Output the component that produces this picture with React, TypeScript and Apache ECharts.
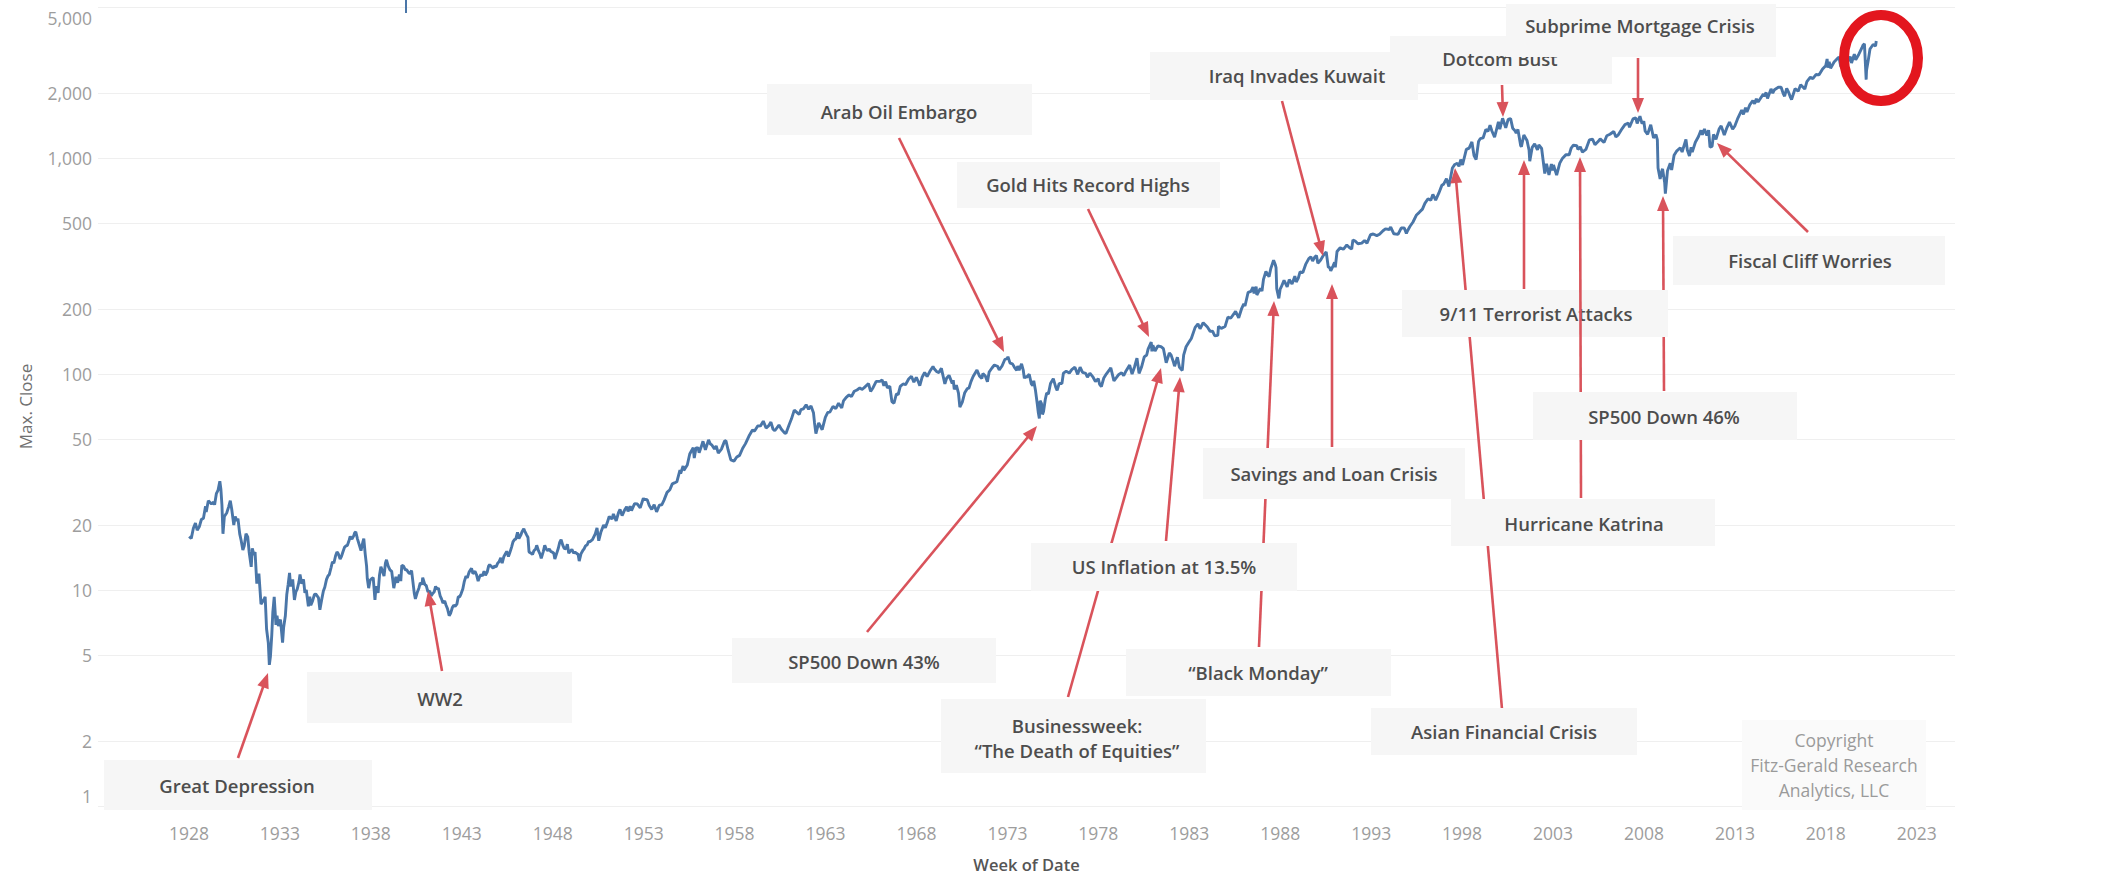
import React, { useEffect, useRef } from "react";
import * as echarts from "echarts";

// ---------- DATA (weekly max close) ----------
const closes1928to1949: [string, number][] = [
  ["1928-01-06",17.7],["1928-02-17",17.3],["1928-03-30",19.3],["1928-05-11",20.4],["1928-06-15",18.9],["1928-07-27",19.6],["1928-09-07",21.2],["1928-10-19",21.5],["1928-11-30",24.4],["1928-12-14",23.0],
  ["1929-01-25",25.9],["1929-03-01",25.4],["1929-03-29",25.0],["1929-05-10",25.5],["1929-05-31",24.8],["1929-07-05",27.9],["1929-08-09",29.0],["1929-09-13",31.9],["1929-10-04",29.3],["1929-10-25",24.8],["1929-11-15",18.2],["1929-12-13",21.9],
  ["1930-01-31",22.8],["1930-03-07",24.2],["1930-04-11",25.9],["1930-05-09",23.7],["1930-06-20",20.0],["1930-07-18",21.9],["1930-08-22",20.9],["1930-09-12",21.4],["1930-10-17",18.2],["1930-11-14",17.0],["1930-12-19",15.3],
  ["1931-01-16",16.0],["1931-02-20",18.2],["1931-03-27",17.6],["1931-04-24",15.0],["1931-06-05",12.8],["1931-06-26",15.6],["1931-07-31",14.5],["1931-08-21",15.0],["1931-09-25",10.7],["1931-10-16",11.5],["1931-11-06",11.9],["1931-12-18",8.6],
  ["1932-01-15",8.8],["1932-02-19",9.1],["1932-03-11",9.3],["1932-04-08",6.6],["1932-05-13",5.7],["1932-06-03",4.5],["1932-06-24",4.9],["1932-07-22",6.2],["1932-08-12",7.9],["1932-09-09",9.3],["1932-10-14",6.9],["1932-11-04",7.6],["1932-12-02",6.8],
  ["1933-01-13",7.3],["1933-02-24",5.7],["1933-03-17",6.7],["1933-04-21",7.6],["1933-05-19",9.5],["1933-06-16",10.6],["1933-07-14",12.0],["1933-08-04",10.4],["1933-09-15",11.2],["1933-10-20",9.0],["1933-11-17",9.8],["1933-12-15",10.1],
  ["1934-01-19",10.9],["1934-02-09",11.8],["1934-03-16",10.7],["1934-04-20",11.2],["1934-05-18",9.7],["1934-06-15",10.0],["1934-07-27",8.4],["1934-08-24",9.3],["1934-09-14",8.5],["1934-10-19",8.9],["1934-11-23",9.5],["1934-12-21",9.6],
  ["1935-01-18",9.4],["1935-02-15",9.2],["1935-03-15",8.1],["1935-04-19",9.0],["1935-05-24",9.9],["1935-06-21",10.3],["1935-07-26",11.2],["1935-08-23",11.6],["1935-09-20",11.8],["1935-10-25",12.7],["1935-11-22",13.5],["1935-12-20",13.3],
  ["1936-01-24",14.4],["1936-02-21",15.0],["1936-03-20",14.7],["1936-04-24",13.9],["1936-05-22",14.3],["1936-06-19",15.0],["1936-07-24",15.8],["1936-08-21",16.0],["1936-09-18",16.1],["1936-10-23",17.0],["1936-11-13",17.7],["1936-12-18",17.2],
  ["1937-01-22",17.8],["1937-02-12",18.4],["1937-03-05",18.6],["1937-04-09",17.2],["1937-05-14",16.2],["1937-06-18",15.2],["1937-07-23",16.6],["1937-08-13",17.3],["1937-09-10",14.7],["1937-10-08",12.9],["1937-10-22",11.3],["1937-11-19",10.2],["1937-12-17",11.1],
  ["1938-01-21",11.3],["1938-02-18",11.4],["1938-03-25",9.0],["1938-04-15",10.4],["1938-05-27",9.7],["1938-06-24",11.7],["1938-07-22",12.8],["1938-08-19",12.3],["1938-09-23",11.6],["1938-10-21",13.3],["1938-11-11",13.8],["1938-12-16",12.9],
  ["1939-01-20",12.4],["1939-02-24",12.2],["1939-04-07",10.2],["1939-05-19",11.5],["1939-06-23",10.8],["1939-07-28",11.8],["1939-08-25",11.0],["1939-09-15",13.0],["1939-10-20",12.9],["1939-11-24",12.4],["1939-12-22",12.4],
  ["1940-01-19",12.1],["1940-02-23",11.9],["1940-03-29",12.3],["1940-04-12",12.3],["1940-05-24",9.6],["1940-06-14",9.1],["1940-07-19",9.7],["1940-08-23",10.2],["1940-09-20",10.8],["1940-10-25",10.6],["1940-11-08",11.4],["1940-12-20",10.6],
  ["1941-01-17",10.5],["1941-02-21",9.8],["1941-03-28",9.9],["1941-04-25",9.4],["1941-05-23",9.6],["1941-06-27",9.8],["1941-07-25",10.4],["1941-08-22",10.1],["1941-09-19",10.2],["1941-10-24",9.4],["1941-11-21",9.1],["1941-12-19",8.7],
  ["1942-01-23",8.9],["1942-02-20",8.5],["1942-03-20",8.2],["1942-04-24",7.6],["1942-05-22",7.8],["1942-06-26",8.3],["1942-07-24",8.5],["1942-08-21",8.4],["1942-09-25",8.6],["1942-10-23",9.3],["1942-11-20",9.3],["1942-12-18",9.6],
  ["1943-01-22",10.1],["1943-02-19",10.9],["1943-03-26",11.6],["1943-04-23",11.4],["1943-05-28",12.1],["1943-07-16",12.6],["1943-08-13",11.9],["1943-09-24",12.2],["1943-10-22",11.8],["1943-11-26",11.0],["1943-12-24",11.5],
  ["1944-01-21",11.8],["1944-02-18",11.6],["1944-03-24",12.2],["1944-04-21",11.7],["1944-05-26",12.1],["1944-06-23",12.9],["1944-07-14",13.1],["1944-08-25",12.8],["1944-09-22",12.6],["1944-10-20",12.9],["1944-11-24",12.8],["1944-12-22",13.3],
  ["1945-01-19",13.5],["1945-02-23",14.1],["1945-03-23",13.3],["1945-04-27",14.3],["1945-05-25",14.7],["1945-06-22",15.1],["1945-07-27",14.3],["1945-08-24",14.9],["1945-09-28",15.8],["1945-10-26",16.7],["1945-11-23",17.1],["1945-12-21",17.2],
  ["1946-01-25",18.5],["1946-02-22",17.3],["1946-03-29",17.9],["1946-04-26",18.6],["1946-05-31",19.2],["1946-06-21",18.7],["1946-07-26",18.0],["1946-08-23",17.5],["1946-09-13",15.0],["1946-10-25",14.8],["1946-11-22",14.6],["1946-12-20",15.2],
  ["1947-01-24",15.5],["1947-02-14",16.1],["1947-03-21",15.2],["1947-04-25",14.6],["1947-05-16",14.0],["1947-06-27",15.1],["1947-07-25",16.1],["1947-08-22",15.5],["1947-09-26",15.2],["1947-10-24",15.5],["1947-11-21",15.1],["1947-12-19",15.0],
  ["1948-01-23",14.8],["1948-02-13",13.9],["1948-03-26",14.9],["1948-04-23",15.6],["1948-05-21",16.6],["1948-06-18",17.1],["1948-07-23",16.1],["1948-08-20",15.6],["1948-09-24",15.5],["1948-10-22",16.3],["1948-11-19",14.8],["1948-12-17",15.1],
  ["1949-01-21",15.4],["1949-02-25",14.8],["1949-03-25",15.0],["1949-04-22",14.8],["1949-05-27",14.6],["1949-06-17",13.6],["1949-07-22",14.7],["1949-08-26",15.2],["1949-09-23",15.5],["1949-10-21",16.0],["1949-11-25",16.2],["1949-12-23",16.8]
];

const closes1950to1979: [string, number][] = [
  ["1950-01-13",16.7],["1950-03-10",17.1],["1950-05-05",18.2],["1950-06-09",19.4],["1950-07-14",16.9],["1950-08-25",18.5],["1950-10-20",20.0],["1950-11-24",19.4],["1950-12-29",20.4],
  ["1951-02-09",21.9],["1951-04-06",21.3],["1951-05-04",22.5],["1951-06-29",20.9],["1951-08-17",22.9],["1951-09-14",23.6],["1951-10-26",22.1],["1951-12-21",23.6],
  ["1952-01-25",24.3],["1952-02-22",23.1],["1952-04-04",24.4],["1952-05-02",23.3],["1952-07-03",25.1],["1952-08-29",25.0],["1952-10-24",24.0],["1952-12-26",26.6],
  ["1953-01-09",26.3],["1953-03-13",26.2],["1953-04-24",24.6],["1953-06-12",23.6],["1953-07-31",24.8],["1953-09-18",23.0],["1953-11-13",24.7],["1953-12-31",24.8],
  ["1954-02-12",26.0],["1954-04-16",28.3],["1954-06-11",29.1],["1954-07-30",31.0],["1954-09-10",31.3],["1954-10-29",31.7],["1954-12-31",35.9],
  ["1955-01-14",34.6],["1955-03-04",37.5],["1955-03-18",35.8],["1955-05-27",37.9],["1955-07-15",42.6],["1955-09-23",45.6],["1955-10-14",40.8],["1955-11-18",45.5],["1955-12-30",45.5],
  ["1956-01-20",43.2],["1956-03-02",46.0],["1956-04-06",48.8],["1956-05-25",44.6],["1956-07-27",49.5],["1956-08-31",47.5],["1956-10-05",46.8],["1956-11-23",44.9],["1956-12-28",46.5],
  ["1957-02-08",43.0],["1957-04-12",44.9],["1957-06-14",48.9],["1957-07-12",49.1],["1957-08-23",44.6],["1957-10-18",40.0],["1957-12-20",39.5],
  ["1958-02-14",41.3],["1958-04-11",42.0],["1958-06-13",45.3],["1958-08-08",47.6],["1958-10-17",51.6],["1958-12-26",55.0],
  ["1959-02-06",54.4],["1959-04-10",57.4],["1959-06-05",57.5],["1959-07-31",60.5],["1959-09-25",56.2],["1959-11-13",57.5],["1959-12-31",59.9],
  ["1960-02-12",55.5],["1960-03-18",54.6],["1960-06-10",58.0],["1960-07-29",55.5],["1960-09-30",53.4],["1960-10-28",53.0],["1960-12-30",58.1],
  ["1961-02-17",62.0],["1961-04-14",68.0],["1961-05-19",66.9],["1961-07-21",64.9],["1961-08-25",68.4],["1961-10-13",69.0],["1961-12-08",72.0],
  ["1962-01-26",68.7],["1962-03-16",71.1],["1962-05-04",66.2],["1962-05-25",59.5],["1962-06-22",53.0],["1962-08-17",59.4],["1962-10-26",55.2],["1962-12-28",63.0],
  ["1963-02-15",66.4],["1963-03-29",66.6],["1963-05-31",70.8],["1963-07-26",69.1],["1963-09-20",73.2],["1963-11-22",69.6],["1963-12-27",75.0],
  ["1964-02-21",78.0],["1964-04-17",80.1],["1964-06-05",78.6],["1964-07-31",83.2],["1964-09-25",84.3],["1964-11-20",86.2],["1964-12-31",84.8],
  ["1965-02-12",86.2],["1965-05-14",90.3],["1965-06-25",83.1],["1965-08-13",86.4],["1965-10-15",92.4],["1965-12-31",92.4],
  ["1966-02-11",94.0],["1966-03-18",88.2],["1966-04-22",92.2],["1966-05-27",86.3],["1966-07-15",87.7],["1966-08-26",74.5],["1966-10-07",73.2],["1966-11-25",81.0],["1966-12-30",80.3],
  ["1967-02-10",87.6],["1967-04-07",89.9],["1967-05-26",89.2],["1967-07-28",94.8],["1967-09-22",97.6],["1967-11-10",91.6],["1967-12-29",96.5],
  ["1968-02-09",91.8],["1968-03-08",88.3],["1968-04-26",96.9],["1968-06-14",101.6],["1968-08-02",97.3],["1968-09-27",102.9],["1968-11-29",108.4],["1968-12-27",105.4],
  ["1969-02-14",102.4],["1969-03-28",101.5],["1969-05-16",106.2],["1969-07-25",90.0],["1969-08-29",95.5],["1969-10-17",98.5],["1969-12-19",90.5],
  ["1970-01-09",93.5],["1970-01-30",85.0],["1970-03-13",88.7],["1970-04-24",81.5],["1970-05-22",70.2],["1970-07-10",74.1],["1970-08-28",81.9],["1970-10-16",85.5],["1970-11-20",86.0],["1970-12-31",92.2],
  ["1971-02-12",97.4],["1971-04-30",104.3],["1971-06-18",98.0],["1971-08-06",95.4],["1971-08-27",100.5],["1971-10-15",97.8],["1971-11-26",92.0],["1971-12-31",102.1],
  ["1972-02-25",106.6],["1972-04-14",110.0],["1972-06-16",108.6],["1972-07-21",104.6],["1972-09-15",108.9],["1972-11-10",116.7],["1972-12-29",118.1],
  ["1973-01-12",120.2],["1973-02-23",112.3],["1973-04-13",111.4],["1973-05-25",107.1],["1973-07-06",104.0],["1973-07-27",108.8],["1973-08-24",104.0],["1973-10-12",111.4],["1973-11-16",103.8],["1973-12-07",95.4],["1973-12-28",97.5],
  ["1974-01-25",96.6],["1974-03-15",99.7],["1974-04-26",90.0],["1974-05-24",88.3],["1974-06-14",93.0],["1974-07-19",83.8],["1974-08-23",72.8],["1974-09-13",66.3],["1974-10-04",62.3],["1974-10-18",75.2],["1974-11-15",73.1],["1974-12-06",65.0],["1974-12-27",67.1],
  ["1975-01-31",76.2],["1975-02-28",81.6],["1975-04-04",80.9],["1975-05-16",90.4],["1975-07-11",95.2],["1975-08-29",86.9],["1975-09-26",84.0],["1975-11-07",90.5],["1975-12-31",90.2],
  ["1976-01-30",100.9],["1976-03-26",102.9],["1976-05-28",101.0],["1976-07-16",104.7],["1976-09-17",107.5],["1976-11-12",99.6],["1976-12-31",107.5],
  ["1977-02-18",101.8],["1977-04-22",100.7],["1977-05-27",96.7],["1977-07-15",100.9],["1977-09-09",97.3],["1977-11-04",92.3],["1977-12-30",95.1],
  ["1978-01-27",89.6],["1978-03-03",87.5],["1978-04-21",95.9],["1978-06-09",99.9],["1978-08-18",105.0],["1978-09-08",106.8],["1978-11-10",93.0],["1978-12-29",96.1],
  ["1979-02-16",99.5],["1979-04-13",101.3],["1979-05-25",98.2],["1979-07-13",103.6],["1979-09-21",109.9],["1979-11-09",99.9],["1979-12-28",107.8]
];

const closes1980to2020: [string, number][] = [
  ["1980-02-15",118.4],["1980-03-28",100.7],["1980-05-16",107.4],["1980-07-11",120.0],["1980-08-29",122.4],["1980-09-26",130.4],["1980-11-28",140.5],["1980-12-12",127.4],["1980-12-31",135.8],
  ["1981-02-13",127.8],["1981-04-10",134.7],["1981-06-12",133.8],["1981-07-31",130.9],["1981-09-25",112.8],["1981-11-27",125.1],["1981-12-31",122.6],
  ["1982-02-19",113.2],["1982-03-12",108.6],["1982-05-07",119.5],["1982-06-18",107.3],["1982-08-13",103.9],["1982-09-10",122.3],["1982-10-29",133.7],["1982-12-17",139.5],
  ["1983-02-11",146.1],["1983-04-29",164.4],["1983-06-24",170.5],["1983-08-05",162.0],["1983-10-07",172.6],["1983-12-30",164.9],
  ["1984-02-24",157.5],["1984-04-13",158.0],["1984-05-25",150.3],["1984-07-27",151.0],["1984-08-10",166.0],["1984-10-05",162.7],["1984-12-21",166.0],
  ["1985-02-15",183.4],["1985-04-12",181.1],["1985-06-28",191.9],["1985-07-19",195.1],["1985-09-20",182.1],["1985-11-15",200.0],["1985-12-31",211.3],
  ["1986-01-24",206.4],["1986-03-28",238.9],["1986-05-23",241.4],["1986-07-03",252.7],["1986-07-25",236.0],["1986-09-05",253.8],["1986-09-19",232.2],["1986-11-28",249.2],["1986-12-31",242.2],
  ["1987-01-30",274.1],["1987-03-20",298.2],["1987-05-22",282.2],["1987-06-26",308.0],["1987-08-21",335.9],["1987-09-25",320.2],["1987-10-09",311.1],["1987-10-23",248.2],["1987-12-04",223.9],["1987-12-31",247.1],
  ["1988-01-22",252.9],["1988-03-18",271.1],["1988-05-20",253.0],["1988-07-01",273.5],["1988-08-26",261.0],["1988-10-21",283.7],["1988-11-18",266.5],["1988-12-30",277.7],
  ["1989-02-03",297.1],["1989-03-31",294.9],["1989-05-26",321.6],["1989-07-28",342.2],["1989-09-08",348.8],["1989-10-13",333.6],["1989-11-24",347.4],["1989-12-29",353.4],
  ["1990-01-26",325.8],["1990-03-23",337.2],["1990-05-18",354.6],["1990-07-13",367.3],["1990-08-24",311.5],["1990-09-21",311.3],["1990-10-12",300.0],["1990-11-23",315.1],["1990-12-28",328.3],
  ["1991-01-11",311.5],["1991-02-15",369.1],["1991-04-19",384.2],["1991-06-21",377.8],["1991-08-30",395.4],["1991-10-25",384.2],["1991-12-06",379.1],["1991-12-31",417.1],
  ["1992-02-14",412.5],["1992-04-10",400.6],["1992-06-26",403.5],["1992-08-21",414.9],["1992-10-09",402.7],["1992-12-18",441.3],
  ["1993-02-12",444.6],["1993-04-23",437.0],["1993-06-18",443.7],["1993-08-27",460.5],["1993-10-15",469.5],["1993-12-31",466.5],
  ["1994-01-28",478.7],["1994-04-01",445.8],["1994-06-24",442.8],["1994-08-26",473.8],["1994-10-28",473.8],["1994-12-09",446.9],["1994-12-30",459.3],
  ["1995-02-17",481.9],["1995-04-21",505.3],["1995-06-30",544.8],["1995-08-25",560.1],["1995-10-27",579.7],["1995-12-15",616.3],
  ["1996-02-16",647.9],["1996-04-12",636.7],["1996-05-24",678.5],["1996-07-19",638.7],["1996-09-20",687.0],["1996-11-22",748.7],["1996-12-27",756.8],
  ["1997-02-21",801.8],["1997-04-11",737.7],["1997-06-20",898.7],["1997-08-08",933.5],["1997-09-26",945.2],["1997-10-31",914.6],["1997-12-05",983.8],
  ["1998-01-09",927.7],["1998-03-27",1095.4],["1998-05-22",1110.5],["1998-07-17",1186.8],["1998-08-28",1027.1],["1998-10-09",984.4],["1998-11-27",1192.3],["1998-12-31",1229.2],
  ["1999-02-26",1238.3],["1999-04-23",1356.9],["1999-06-04",1327.8],["1999-07-16",1418.8],["1999-08-20",1336.6],["1999-10-15",1247.4],["1999-12-31",1469.3],
  ["2000-01-28",1360.2],["2000-03-24",1527.5],["2000-05-26",1378.0],["2000-07-14",1509.0],["2000-09-01",1520.8],["2000-10-13",1374.2],["2000-11-24",1341.8],["2000-12-22",1305.9],
  ["2001-01-26",1354.9],["2001-03-23",1139.8],["2001-04-06",1128.4],["2001-05-25",1277.9],["2001-07-27",1205.8],["2001-09-07",1085.8],["2001-09-21",965.8],["2001-11-09",1120.3],["2001-12-28",1161.0],
  ["2002-02-22",1089.8],["2002-03-22",1148.7],["2002-05-17",1106.6],["2002-07-19",847.8],["2002-08-23",940.9],["2002-10-11",835.3],["2002-11-29",936.3],["2002-12-27",875.4],
  ["2003-01-10",927.6],["2003-03-14",833.3],["2003-05-16",946.7],["2003-07-11",998.1],["2003-09-19",1036.5],["2003-11-21",1035.3],["2003-12-31",1111.9],
  ["2004-02-13",1145.8],["2004-04-23",1140.6],["2004-05-14",1095.7],["2004-07-02",1125.4],["2004-08-13",1064.8],["2004-10-22",1095.2],["2004-12-31",1211.9],
  ["2005-03-04",1222.1],["2005-04-22",1152.1],["2005-06-24",1191.6],["2005-08-05",1226.4],["2005-10-21",1179.6],["2005-12-16",1267.3],
  ["2006-02-17",1287.2],["2006-05-05",1325.8],["2006-06-16",1251.5],["2006-08-04",1279.4],["2006-10-20",1368.6],["2006-12-15",1427.1],
  ["2007-02-23",1451.2],["2007-03-16",1386.9],["2007-05-25",1515.7],["2007-07-20",1534.1],["2007-08-17",1445.9],["2007-10-12",1561.8],["2007-11-23",1440.7],["2007-12-28",1478.5],
  ["2008-01-25",1330.6],["2008-03-14",1288.1],["2008-05-16",1425.4],["2008-07-11",1239.5],["2008-08-29",1282.8],["2008-09-26",1213.3],["2008-10-10",899.2],["2008-11-21",800.0],["2008-12-26",872.8],
  ["2009-01-09",890.4],["2009-02-20",770.1],["2009-03-06",683.4],["2009-04-17",869.6],["2009-06-12",946.2],["2009-07-10",879.1],["2009-08-28",1028.9],["2009-10-23",1079.6],["2009-12-31",1115.1],
  ["2010-02-05",1066.2],["2010-04-23",1217.3],["2010-05-21",1087.7],["2010-07-02",1022.6],["2010-08-06",1121.6],["2010-08-27",1064.6],["2010-10-29",1183.3],["2010-12-31",1257.6],
  ["2011-02-18",1343.0],["2011-03-18",1279.2],["2011-04-29",1363.6],["2011-06-17",1271.5],["2011-07-22",1345.0],["2011-08-19",1123.5],["2011-09-30",1131.4],["2011-10-28",1285.1],["2011-12-16",1219.7],
  ["2012-02-17",1361.2],["2012-03-30",1408.5],["2012-06-01",1278.0],["2012-07-27",1385.9],["2012-09-14",1465.8],["2012-11-16",1359.9],["2012-12-28",1402.4],
  ["2013-02-22",1515.6],["2013-05-17",1667.5],["2013-06-21",1592.4],["2013-08-02",1709.7],["2013-08-30",1633.0],["2013-10-25",1759.8],["2013-12-27",1841.4],
  ["2014-01-31",1782.6],["2014-03-07",1878.0],["2014-04-11",1815.7],["2014-07-25",1978.3],["2014-08-08",1931.6],["2014-09-19",2010.4],["2014-10-17",1886.8],["2014-12-26",2088.8],
  ["2015-01-30",1995.0],["2015-03-06",2071.3],["2015-05-22",2126.1],["2015-07-17",2126.6],["2015-08-28",1988.9],["2015-09-25",1931.3],["2015-11-06",2099.2],["2015-12-18",2005.6],
  ["2016-01-22",1906.9],["2016-02-12",1864.8],["2016-04-22",2091.6],["2016-06-24",2037.4],["2016-08-12",2184.1],["2016-11-04",2085.2],["2016-12-16",2258.1],
  ["2017-02-24",2367.3],["2017-04-14",2328.9],["2017-06-16",2433.2],["2017-08-18",2425.6],["2017-10-27",2581.1],["2017-12-29",2673.6],
  ["2018-01-26",2872.9],["2018-02-09",2619.6],["2018-03-09",2786.6],["2018-04-06",2604.5],["2018-06-15",2779.4],["2018-08-31",2901.5],["2018-09-21",2929.7],["2018-10-26",2658.7],["2018-12-07",2633.1],["2018-12-21",2416.6],
  ["2019-01-25",2664.8],["2019-03-29",2834.4],["2019-05-03",2945.6],["2019-05-31",2752.1],["2019-07-26",3025.9],["2019-08-23",2847.1],["2019-10-25",3022.6],["2019-12-27",3240.0],
  ["2020-01-17",3329.6],["2020-02-14",3380.2],["2020-03-20",2304.9],["2020-03-27",2541.5],["2020-05-01",2830.7],["2020-06-05",3193.9],["2020-08-07",3351.3],["2020-09-25",3298.5],["2020-10-09",3477.1]
];

const yTickValues = [1, 2, 5, 10, 20, 50, 100, 200, 500, 1000, 2000, 5000];
const xTickYears = [1928, 1933, 1938, 1943, 1948, 1953, 1958, 1963, 1968, 1973, 1978, 1983, 1988, 1993, 1998, 2003, 2008, 2013, 2018, 2023];

const annotationTexts = [
  "Great Depression",
  "WW2",
  "SP500 Down 43%",
  "Arab Oil Embargo",
  "Gold Hits Record Highs",
  "Businessweek:\n\u201CThe Death of Equities\u201D",
  "US Inflation at 13.5%",
  "\u201CBlack Monday\u201D",
  "Savings and Loan Crisis",
  "Iraq Invades Kuwait",
  "Dotcom Bust",
  "Subprime Mortgage Crisis",
  "Asian Financial Crisis",
  "9/11 Terrorist Attacks",
  "Hurricane Katrina",
  "SP500 Down 46%",
  "Fiscal Cliff Worries"
];
const copyrightLines = ["Copyright", "Fitz-Gerald Research", "Analytics, LLC"];

// ---------- LAYOUT (pixels) ----------
const annotationLayout: { box: number[]; text: number[]; tail: number[]; head: number[] }[] = [
  { box: [104, 760, 268, 50], text: [237, 785], tail: [238, 758], head: [268, 673] },
  { box: [307, 672, 265, 51], text: [440, 698], tail: [442, 671], head: [428, 591] },
  { box: [732, 638, 264, 45], text: [864, 661], tail: [867, 632], head: [1037, 426] },
  { box: [767, 84, 265, 51], text: [899, 111], tail: [899, 138], head: [1004, 352] },
  { box: [957, 162, 263, 46], text: [1088, 184], tail: [1088, 209], head: [1149, 337] },
  { box: [941, 699, 265, 74], text: [1077, 738], tail: [1068, 697], head: [1161, 368] },
  { box: [1031, 543, 266, 48], text: [1164, 566], tail: [1166, 541], head: [1180, 377] },
  { box: [1126, 649, 265, 47], text: [1258, 672], tail: [1259, 647], head: [1274, 301] },
  { box: [1203, 448, 262, 51], text: [1334, 473], tail: [1332, 447], head: [1332, 284] },
  { box: [1150, 52, 268, 48], text: [1297, 75], tail: [1282, 101], head: [1323, 256] },
  { box: [1390, 36, 222, 48], text: [1500, 58], tail: [1502, 85], head: [1503, 117] },
  { box: [1506, 4, 270, 53], text: [1640, 25], tail: [1638, 58], head: [1638, 113] },
  { box: [1371, 708, 266, 47], text: [1504, 731], tail: [1502, 709], head: [1455, 168] },
  { box: [1402, 290, 266, 47], text: [1536, 313], tail: [1524, 289], head: [1524, 160] },
  { box: [1451, 499, 264, 47], text: [1584, 523], tail: [1581, 498], head: [1580, 157] },
  { box: [1533, 392, 264, 48], text: [1664, 416], tail: [1664, 391], head: [1663, 196] },
  { box: [1673, 236, 272, 49], text: [1810, 260], tail: [1808, 232], head: [1717, 143] }
];
// the Katrina arrow shows through the 9/11 box but hides under the SP500 46% box
const KATRINA = 14;
const AFTER_BOX = 13;

const FONT = "'Open Sans', 'Noto Sans', sans-serif";
const LINE_BLUE = "#4a76a8";
const ARROW_RED = "#d9535b";
const BOX_FILL = "#f6f6f6";
const ANNOT_TEXT = "#4d4d4d";
const AXIS_TEXT = "#9d9d9d";

function withCommas(n: number): string {
  return String(n).replace(/\B(?=(\d{3})+(?!\d))/g, ",");
}

// "YYYY-MM-DD" -> fractional year
function toYear(d: string): number {
  const [y, m, day] = d.split("-").map(Number);
  const start = Date.UTC(y, 0, 1);
  const end = Date.UTC(y + 1, 0, 1);
  return y + (Date.UTC(y, m - 1, day) - start) / (end - start);
}

function arrowElements(tail: number[], head: number[], z: number) {
  const dx = head[0] - tail[0];
  const dy = head[1] - tail[1];
  const len = Math.hypot(dx, dy) || 1;
  const ux = dx / len, uy = dy / len;
  const L = 15, W = 12;
  const bx = head[0] - ux * L, by = head[1] - uy * L;
  const px = -uy, py = ux;
  return [
    {
      type: "line",
      silent: true,
      z,
      shape: { x1: tail[0], y1: tail[1], x2: bx + ux * 2, y2: by + uy * 2 },
      style: { stroke: ARROW_RED, lineWidth: 2.6 }
    },
    {
      type: "polygon",
      silent: true,
      z,
      shape: {
        points: [
          [head[0], head[1]],
          [bx + (px * W) / 2, by + (py * W) / 2],
          [bx - (px * W) / 2, by - (py * W) / 2]
        ]
      },
      style: { fill: ARROW_RED }
    }
  ];
}

function boxElements(i: number) {
  const lay = annotationLayout[i];
  return [
    {
      type: "rect",
      silent: true,
      z: 20 + i * 3,
      shape: { x: lay.box[0], y: lay.box[1], width: lay.box[2], height: lay.box[3] },
      style: { fill: BOX_FILL }
    },
    {
      type: "text",
      silent: true,
      z: 21 + i * 3,
      x: lay.text[0],
      y: lay.text[1],
      style: {
        text: annotationTexts[i],
        fill: ANNOT_TEXT,
        fontSize: 18.5,
        fontWeight: 600,
        fontFamily: FONT,
        lineHeight: 25,
        align: "center",
        verticalAlign: "middle"
      }
    }
  ];
}

function buildGraphics() {
  const els: any[] = [];
  annotationLayout.forEach((lay, i) => {
    if (i !== KATRINA) els.push(...arrowElements(lay.tail, lay.head, 10));
  });
  annotationLayout.forEach((lay, i) => {
    els.push(...boxElements(i));
    if (i === AFTER_BOX) {
      const k = annotationLayout[KATRINA];
      els.push(...arrowElements(k.tail, k.head, 22 + i * 3));
    }
  });
  els.push({
    type: "rect",
    silent: true,
    z: 100,
    shape: { x: 1742, y: 720, width: 184, height: 90 },
    style: { fill: "#fafafa" }
  });
  copyrightLines.forEach((t, i) => {
    els.push({
      type: "text",
      silent: true,
      z: 101,
      x: 1834,
      y: 740 + i * 25,
      style: {
        text: t,
        fill: "#9a9a9a",
        fontSize: 17.5,
        fontFamily: FONT,
        align: "center",
        verticalAlign: "middle"
      }
    });
  });
  els.push({
    type: "ellipse",
    silent: true,
    z: 102,
    shape: { cx: 1881, cy: 58, rx: 37, ry: 43 },
    style: { fill: "none", stroke: "#e3161e", lineWidth: 10 }
  });
  els.push({
    type: "line",
    silent: true,
    z: 102,
    shape: { x1: 406, y1: 0, x2: 406, y2: 13 },
    style: { stroke: LINE_BLUE, lineWidth: 2 }
  });
  return els;
}

export default function App() {
  const ref = useRef<HTMLDivElement>(null);
  useEffect(() => {
    if (!ref.current) return;
    const chart = echarts.init(ref.current, null, { renderer: "svg" });
    const all = [...closes1928to1949, ...closes1950to1979, ...closes1980to2020];
    const seriesData = all.map(([d, v]) => [toYear(d), Math.log10(v)]);
    const option: any = {
      animation: false,
      backgroundColor: "#ffffff",
      textStyle: { fontFamily: FONT },
      grid: { left: 98, right: 148, top: 7, bottom: 71, containLabel: false, outerBoundsMode: "none" },
      xAxis: {
        type: "value",
        min: 1923,
        max: 2025.1,
        name: "Week of Date",
        nameLocation: "middle",
        nameGap: 50,
        nameTextStyle: { color: "#555555", fontSize: 16.5, fontWeight: 600, fontFamily: FONT },
        axisLine: { show: false },
        axisTick: { show: false, customValues: xTickYears },
        splitLine: { show: false },
        axisLabel: {
          customValues: xTickYears,
          formatter: (v: number) => String(Math.round(v)),
          color: AXIS_TEXT,
          fontSize: 17.5,
          fontFamily: FONT,
          margin: 18
        }
      },
      yAxis: {
        type: "value",
        min: 0,
        max: Math.log10(5000),
        name: "Max. Close",
        nameLocation: "middle",
        nameGap: 64,
        nameTextStyle: { color: "#707070", fontSize: 17, fontFamily: FONT },
        axisLine: { show: false },
        axisTick: { show: false, customValues: yTickValues.map((v) => Math.log10(v)) },
        splitLine: { show: true, lineStyle: { color: "#efefef", width: 1 } },
        axisLabel: {
          customValues: yTickValues.map((v) => Math.log10(v)),
          formatter: (v: number) => {
            const n = Math.round(Math.pow(10, v));
            const s = withCommas(n);
            if (n === 5000) return `{top|${s}}`;
            if (n === 1) return `{bot|${s}}`;
            return s;
          },
          rich: {
            top: { padding: [22, 0, 0, 0], color: AXIS_TEXT, fontSize: 17.5, fontFamily: FONT },
            bot: { padding: [0, 0, 20, 0], color: AXIS_TEXT, fontSize: 17.5, fontFamily: FONT }
          },
          color: AXIS_TEXT,
          fontSize: 17.5,
          fontFamily: FONT,
          margin: 6
        }
      },
      series: [
        {
          type: "line",
          name: "Max. Close",
          data: seriesData,
          showSymbol: false,
          symbol: "none",
          lineStyle: { color: LINE_BLUE, width: 2.9 },
          itemStyle: { color: LINE_BLUE },
          z: 2
        }
      ],
      graphic: { elements: buildGraphics() }
    };
    chart.setOption(option);
    return () => chart.dispose();
  }, []);
  return (
    <div
      ref={ref}
      style={{ position: "fixed", left: 0, top: 0, width: 2103, height: 877 }}
    />
  );
}
